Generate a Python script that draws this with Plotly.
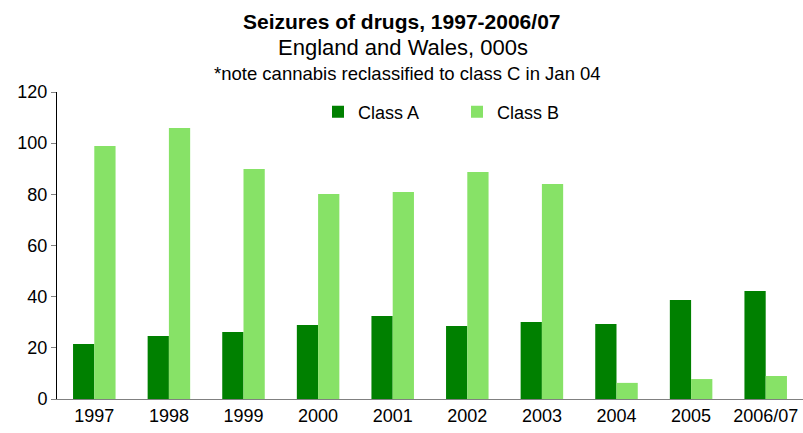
import plotly.graph_objects as go

years = ["1997", "1998", "1999", "2000", "2001", "2002", "2003", "2004", "2005", "2006/07"]
class_a = [21.5, 24.6, 26.2, 28.9, 32.4, 28.5, 30.1, 29.3, 38.7, 42.2]
class_b = [98.9, 105.9, 89.9, 80.1, 80.9, 88.7, 84.0, 6.3, 7.8, 9.0]
y_ticks = [0, 20, 40, 60, 80, 100, 120]

FONT = "Liberation Sans, Arial, sans-serif"

fig = go.Figure()
fig.add_trace(go.Bar(x=years, y=class_a, name="Class A", marker=dict(color="#008000", line=dict(width=0))))
fig.add_trace(go.Bar(x=years, y=class_b, name="Class B", marker=dict(color="#87E267", line=dict(width=0))))

plot_left, plot_right, plot_top, plot_bottom = 57, 803, 92, 399

def px_x(p):
    return (p - plot_left) / (plot_right - plot_left)

def px_y(p):
    return (plot_bottom - p) / (plot_bottom - plot_top)

fig.update_layout(
    width=803, height=433,
    margin=dict(l=plot_left, r=803 - plot_right, t=plot_top, b=433 - plot_bottom, autoexpand=False),
    paper_bgcolor="white", plot_bgcolor="white",
    barmode="group", bargap=0.43, bargroupgap=0,
    font=dict(family=FONT, size=18, color="black"),
    showlegend=True,
    legend=dict(orientation="h", x=px_x(318), y=px_y(112), xanchor="left", yanchor="middle",
                font=dict(size=18), entrywidth=94, entrywidthmode="pixels",
                bgcolor="rgba(0,0,0,0)", traceorder="normal"),
    xaxis=dict(showgrid=False, showline=True, linecolor="#808080", linewidth=1,
               ticks="", tickfont=dict(size=18), fixedrange=True, automargin=False),
    yaxis=dict(range=[0, 120], tickvals=y_ticks, showgrid=False, zeroline=False,
               showline=True, linecolor="black", linewidth=1,
               ticks="outside", ticklen=5, tickcolor="#808080",
               tickfont=dict(size=18), fixedrange=True, automargin=False),
    annotations=[
        dict(text="<b>Seizures of drugs, 1997-2006/07</b>", x=px_x(402), y=px_y(22), xref="paper", yref="paper",
             showarrow=False, font=dict(size=21), xanchor="center", yanchor="middle"),
        dict(text="England and Wales, 000s", x=px_x(403), y=px_y(48), xref="paper", yref="paper",
             showarrow=False, font=dict(size=22), xanchor="center", yanchor="middle"),
        dict(text="*note cannabis reclassified to class C in Jan 04", x=px_x(407), y=px_y(73), xref="paper", yref="paper",
             showarrow=False, font=dict(size=18.5), xanchor="center", yanchor="middle"),
    ],
)

fig.write_html(
    "out.html",
    config={"displayModeBar": False},
    post_script="document.body.style.margin='0';document.body.style.padding='0';"
                "document.documentElement.style.overflow='hidden';",
)
